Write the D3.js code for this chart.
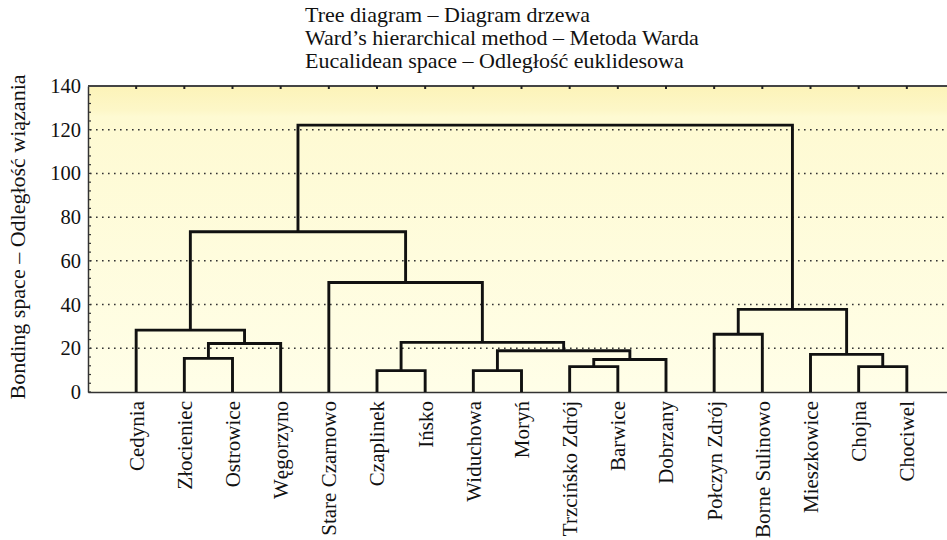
<!DOCTYPE html>
<html><head><meta charset="utf-8">
<script src="https://cdn.jsdelivr.net/npm/d3@7"></script>
<style>body{margin:0;background:#fff}svg{display:block}
svg text{font-family:"Liberation Serif","DejaVu Serif","Times New Roman",serif !important;fill:#111}</style>
</head><body>
<svg id="c" width="947" height="540"></svg>
<script>
const titleLines = ["Tree diagram – Diagram drzewa","Ward’s hierarchical method – Metoda Warda","Eucalidean space – Odległość euklidesowa"];
const yTitle = "Bonding space – Odległość wiązania";
const leaves = ["Cedynia","Złocieniec","Ostrowice","Węgorzyno","Stare Czarnowo","Czaplinek","Ińsko","Widuchowa","Moryń","Trzcińsko Zdrój","Barwice","Dobrzany","Połczyn Zdrój","Borne Sulinowo","Mieszkowice","Chojna","Chociwel"];
// merge steps: [childA, childB, linkage distance]; numbers >=100 refer to earlier merges (100 + index)
const mergeA = ["Złocieniec",100,"Cedynia","Czaplinek","Widuchowa","Trzcińsko Zdrój",105,104,103,"Stare Czarnowo",102,"Połczyn Zdrój","Chojna","Mieszkowice",111,110];
const mergeB = ["Ostrowice","Węgorzyno",101,"Ińsko","Moryń","Barwice","Dobrzany",106,107,108,109,"Borne Sulinowo","Chociwel",112,113,114];
const mergeH = [15.4,22.2,28.3,9.8,9.8,11.6,14.9,18.9,22.7,50.1,73.3,26.4,11.6,17.2,37.8,122.1];
const yTicks = [0,20,40,60,80,100,120,140];

const svg = d3.select("#c");
const L = 88, T = 86, B = 392, R = 955;
const x = d3.scalePoint().domain(leaves).range([L, R]).padding(1);
const y = d3.scaleLinear().domain([0,140]).range([B, T]);

const defs = svg.append("defs");
const g = defs.append("linearGradient").attr("id","bg").attr("x1",0).attr("y1",0).attr("x2",0).attr("y2",1);
g.append("stop").attr("offset","0%").attr("stop-color","#fcf3b8");
g.append("stop").attr("offset","8%").attr("stop-color","#fdf7c8");
g.append("stop").attr("offset","10%").attr("stop-color","#fefad2");
g.append("stop").attr("offset","100%").attr("stop-color","#fffee8");
svg.append("rect").attr("x",L).attr("y",T).attr("width",R-L).attr("height",B-T).attr("fill","url(#bg)");

// grid
svg.append("g").selectAll("line").data(yTicks.filter(d=>d>0&&d<140)).join("line")
  .attr("x1",L+2).attr("x2",947).attr("y1",d=>y(d)).attr("y2",d=>y(d))
  .attr("stroke","#333").attr("stroke-width",1.5).attr("stroke-dasharray","1.6,4.4");

// y axis
const ya = svg.append("g").attr("transform",`translate(${L},0)`)
  .call(d3.axisLeft(y).tickValues(yTicks).tickSize(0).tickPadding(7));
ya.select(".domain").attr("stroke","#333").attr("stroke-width",1.5);
ya.selectAll("text").attr("font-size",20.5);
// minor ticks inward
svg.append("g").selectAll("line").data(d3.range(0,141,4)).join("line")
  .attr("x1",L).attr("x2",L+3).attr("y1",d=>y(d)).attr("y2",d=>y(d))
  .attr("stroke","#333").attr("stroke-width",1.2);

// top border with ticks
svg.append("line").attr("x1",L).attr("x2",947).attr("y1",T).attr("y2",T).attr("stroke","#444").attr("stroke-width",2);
svg.append("g").selectAll("line").data(leaves).join("line")
  .attr("x1",d=>x(d)).attr("x2",d=>x(d)).attr("y1",T).attr("y2",T+3)
  .attr("stroke","#222").attr("stroke-width",2);
// bottom axis
const xa = svg.append("g").attr("transform",`translate(0,${B})`)
  .call(d3.axisBottom(x).tickSize(0).tickPadding(0));
xa.select(".domain").attr("stroke","#333").attr("stroke-width",1.6);
xa.selectAll("text").attr("font-size",21)
  .attr("text-anchor","end").attr("transform","rotate(-90)").attr("x",-9).attr("y",0).attr("dy","0.33em");

// dendrogram
const pos = {}, hgt = {};
leaves.forEach(l=>{pos[l]=x(l);hgt[l]=0;});
const key = k => typeof k === "number" ? "m"+(k-100) : k;
const paths = [];
mergeH.forEach((h,i)=>{
  const a = key(mergeA[i]), b = key(mergeB[i]);
  paths.push(`M${pos[a]},${y(hgt[a])}V${y(h)}H${pos[b]}V${y(hgt[b])}`);
  pos["m"+i] = (pos[a]+pos[b])/2; hgt["m"+i] = h;
});
svg.append("g").selectAll("path").data(paths).join("path")
  .attr("d",d=>d)
  .attr("fill","none").attr("stroke","#111").attr("stroke-width",2.9).attr("stroke-linejoin","miter");

// titles
svg.append("g").selectAll("text").data(titleLines).join("text")
  .attr("x",305).attr("y",(d,i)=>22+i*23).text(d=>d)
  .attr("font-size",22);
svg.append("text").attr("transform",`translate(25,${(T+B)/2-2}) rotate(-90)`).attr("text-anchor","middle")
  .text(yTitle).attr("font-size",22);
</script>
</body></html>
